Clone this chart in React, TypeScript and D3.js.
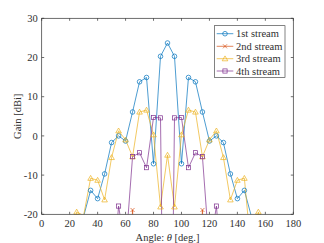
import React from "react";
import * as d3 from "d3";

const angles = d3.range(0, 181, 5);
const seriesNames = ["1st stream", "2nd stream", "3rd stream", "4th stream"];
const stream1 = [-40, -40, -40, -40, -35, -30, -20.5, -13.9, -16.0, -9.7, -1.7, 0, -1.3, 6.1, 13.8, 14.9, -7.1, 20.3, 23.7, 20.3, -7.1, 14.9, 13.8, 6.1, -1.3, 0, -1.7, -9.7, -16.0, -13.9, -20.5, -30, -35, -40, -40, -40, -40];
const stream2 = [-60, -60, -60, -60, -60, -60, -60, -60, -60, -60, -60, -60, -60, -18.9, -60, -60, -60, -60, -60, -60, -60, -60, -60, -18.9, -60, -60, -60, -60, -60, -60, -60, -60, -60, -60, -60, -60, -60];
const stream3 = [-40, -40, -40, -40, -30, -19.4, -20.3, -10.8, -11.3, -16.3, -5.5, 1.3, -1.0, -5.3, 6.1, 6.6, 0.3, -18.1, -4.9, -18.1, 0.3, 6.6, 6.1, -5.3, -1.0, 1.3, -5.5, -16.3, -11.3, -10.8, -30, -19.4, -30, -40, -40, -40, -40];
const stream4 = [-40, -40, -40, -40, -40, -40, -40, -40, -40, -40, -40, -17.9, -29, -5.3, -4.3, -8.1, 4.7, 4.6, -150, 4.6, 4.7, -8.1, -4.3, -5.3, -29.5, -17.9, -40, -40, -40, -40, -40, -40, -40, -40, -40, -40, -40];
const xTicks = [0, 20, 40, 60, 80, 100, 120, 140, 160, 180];
const yTicks = [-20, -10, 0, 10, 20, 30];

const colors = ["#0072BD", "#D95319", "#EDB120", "#7E2F8E"];
const markers = ["circle", "x", "triangle", "square"];

const W = 324, H = 243;
const L = 41.7, R = 293.3, T = 18.3, B = 214.3;
const FONT = "Liberation Serif, Times New Roman, serif";
const AX = "#303030";
const SW = 0.7;

function Marker({ type, x, y, color }: { type: string; x: number; y: number; color: string }) {
  if (type === "circle") return <circle cx={x} cy={y} r={2.3} fill="none" stroke={color} strokeWidth={SW} />;
  if (type === "x") {
    const s = 2;
    return (
      <path d={`M${x - s},${y - s}L${x + s},${y + s}M${x - s},${y + s}L${x + s},${y - s}`} stroke={color} strokeWidth={SW} fill="none" />
    );
  }
  if (type === "triangle") {
    const s = 2.8;
    return <path d={`M${x},${y - s}L${x + s},${y + s * 0.75}L${x - s},${y + s * 0.75}Z`} fill="none" stroke={color} strokeWidth={SW} />;
  }
  const s = 2.1;
  return <rect x={x - s} y={y - s} width={2 * s} height={2 * s} fill="none" stroke={color} strokeWidth={SW} />;
}

export default function App() {
  const x = d3.scaleLinear().domain([0, 180]).range([L, R]);
  const y = d3.scaleLinear().domain([-20, 30]).range([B, T]);
  const all = [stream1, stream2, stream3, stream4];
  const line = d3.line<number>().x((_, i) => x(angles[i])).y((d) => y(d));

  const legX = 214.3, legY = 25.7, legW = 70.7, legH = 51.6;
  const legRows = [33.7, 46.3, 58.7, 71];

  return (
    <svg width={W} height={H} style={{ position: "absolute", left: 0, top: 0, background: "#fff" }} fontFamily={FONT}>
      <defs>
        <clipPath id="plotclip">
          <rect x={L} y={T} width={R - L} height={B - T} />
        </clipPath>
      </defs>
      <rect x={0} y={0} width={W} height={H} fill="#fff" />
      <g clipPath="url(#plotclip)">
        {all.map((s, k) => (
          <path key={k} d={line(s) || ""} fill="none" stroke={colors[k]} strokeWidth={SW} />
        ))}
      </g>
      {all.map((s, k) => (
        <g key={"m" + k}>
          {s.map((v, i) =>
            v >= -20 && v <= 30 ? <Marker key={i} type={markers[k]} x={x(angles[i])} y={y(v)} color={colors[k]} /> : null
          )}
        </g>
      ))}
      <rect x={L} y={T} width={R - L} height={B - T} fill="none" stroke={AX} strokeWidth={0.7} />
      {xTicks.map((t) => (
        <g key={"xt" + t}>
          <line x1={x(t)} x2={x(t)} y1={B} y2={B - 2.5} stroke={AX} strokeWidth={0.7} />
          <line x1={x(t)} x2={x(t)} y1={T} y2={T + 2.5} stroke={AX} strokeWidth={0.7} />
          <text x={x(t)} y={B + 13} fontSize={10.5} textAnchor="middle" fill={AX}>{t}</text>
        </g>
      ))}
      {yTicks.map((t) => (
        <g key={"yt" + t}>
          <line x1={L} x2={L + 2.5} y1={y(t)} y2={y(t)} stroke={AX} strokeWidth={0.7} />
          <line x1={R} x2={R - 2.5} y1={y(t)} y2={y(t)} stroke={AX} strokeWidth={0.7} />
          <text x={L - 4} y={y(t) + 3.6} fontSize={10.5} textAnchor="end" fill={AX}>{t}</text>
        </g>
      ))}
      <text x={(L + R) / 2} y={240.5} fontSize={10.5} textAnchor="middle" fill={AX}>
        Angle: <tspan fontStyle="italic">θ</tspan> [deg.]
      </text>
      <text transform={`translate(20.5,${(T + B) / 2}) rotate(-90)`} fontSize={10.5} textAnchor="middle" fill={AX}>
        Gain [dBi]
      </text>
      <rect x={legX} y={legY} width={legW} height={legH} fill="#fff" stroke={AX} strokeWidth={0.6} />
      {seriesNames.map((n, k) => (
        <g key={"lg" + k}>
          <line x1={216.7} x2={233.3} y1={legRows[k]} y2={legRows[k]} stroke={colors[k]} strokeWidth={SW} />
          <Marker type={markers[k]} x={225} y={legRows[k]} color={colors[k]} />
          <text x={236} y={legRows[k] + 3.6} fontSize={10.5} fill={AX}>{n}</text>
        </g>
      ))}
    </svg>
  );
}
